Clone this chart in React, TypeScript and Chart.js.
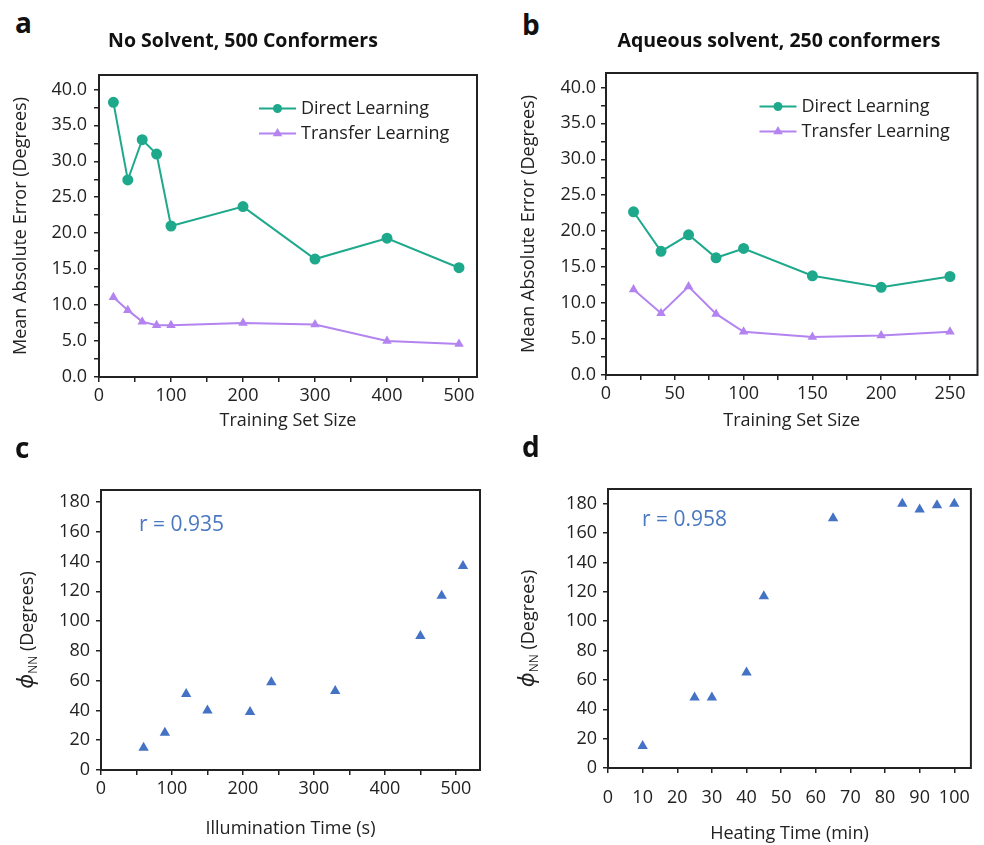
import React, { useEffect, useRef } from 'react';
import { Chart, registerables } from 'chart.js';

Chart.register(...registerables);

// ---------------- data ----------------
const sizesA = [20, 40, 60, 80, 100, 200, 300, 400, 500];
const directA = [38.2, 27.4, 33.0, 31.0, 21.0, 23.7, 16.4, 19.3, 15.2];
const transferA = [11.1, 9.3, 7.7, 7.2, 7.2, 7.5, 7.3, 5.0, 4.6];

const sizesB = [20, 40, 60, 80, 100, 150, 200, 250];
const directB = [22.7, 17.2, 19.5, 16.3, 17.6, 13.8, 12.2, 13.7];
const transferB = [11.9, 8.6, 12.3, 8.5, 6.0, 5.3, 5.5, 6.0];

const illumTime = [60, 90, 120, 150, 210, 240, 330, 450, 480, 510];
const phiC = [15, 25, 51, 40, 39, 59, 53, 90, 117, 137];

const heatTime = [10, 25, 30, 40, 45, 65, 85, 90, 95, 100];
const phiD = [15, 48, 48, 65, 117, 170, 180, 176, 179, 180];

const seriesNames = ['Direct Learning', 'Transfer Learning'];
const panelTitles = ['No Solvent, 500 Conformers', 'Aqueous solvent, 250 conformers'];
const panelLetters = ['a', 'b', 'c', 'd'];
const rLabels = ['r = 0.935', 'r = 0.958'];
const axisTitles = {
  mae: 'Mean Absolute Error (Degrees)',
  size: 'Training Set Size',
  illum: 'Illumination Time (s)',
  heat: 'Heating Time (min)',
};

// ---------------- style ----------------
const FONT = '"Open Sans", "Noto Sans", sans-serif';
const INK = '#222222';
const TEAL = '#1fa98c';
const PURPLE = '#b383f0';
const BLUE = '#4472c4';

const toXY = (xs: number[], ys: number[]) => xs.map((x, i) => ({ x, y: ys[i] }));

function linScale(
  axis: 'x' | 'y',
  min: number,
  max: number,
  step: number,
  major: number,
  fmt: (v: number) => string,
  size: number,
  tickPad: number,
  title: string | null,
  titlePad: any
) {
  const isMult = (v: number, s: number) => Math.abs(v / s - Math.round(v / s)) < 1e-6;
  return {
    type: 'linear',
    position: axis === 'x' ? 'bottom' : 'left',
    min,
    max,
    afterBuildTicks: (s: any) => {
      s.ticks = s.ticks.filter((t: any) => isMult(t.value, step) && t.value <= max + 1e-9);
    },
    afterFit: (s: any) => {
      if (axis === 'x') s.height = size;
      else s.width = size;
    },
    ticks: {
      stepSize: step,
      includeBounds: false,
      autoSkip: false,
      maxRotation: 0,
      minRotation: 0,
      padding: tickPad,
      color: INK,
      font: { family: FONT, size: 18 },
      callback: (v: any) => (isMult(Number(v), major) ? fmt(Number(v)) : ''),
    },
    grid: {
      display: true,
      drawOnChartArea: false,
      drawTicks: true,
      tickLength: 5,
      color: INK,
      lineWidth: 1.5,
    },
    border: { display: false },
    title: title
      ? {
          display: true,
          text: title,
          color: INK,
          font: { family: FONT, size: 18 },
          padding: titlePad,
        }
      : { display: false },
  };
}

function drawTri(ctx: CanvasRenderingContext2D, x: number, y: number, r: number) {
  const c = Math.cos(Math.PI / 6) * r;
  ctx.beginPath();
  ctx.moveTo(x, y - r);
  ctx.lineTo(x + c, y + r / 2);
  ctx.lineTo(x - c, y + r / 2);
  ctx.closePath();
  ctx.fill();
}

function extrasPlugin(opts: {
  legend?: boolean;
  rText?: { text: string; dx: number; dy: number };
  phiTitleX?: number;
}) {
  return {
    id: 'extras',
    beforeDatasetsDraw(chart: any) {
      const { ctx, chartArea: a } = chart;
      ctx.save();
      ctx.strokeStyle = INK;
      ctx.lineWidth = 2;
      ctx.strokeRect(a.left, a.top, a.right - a.left, a.bottom - a.top);
      ctx.restore();
    },
    afterDatasetsDraw(chart: any) {
      const { ctx, chartArea: a } = chart;
      ctx.save();
      if (opts.legend) {
        const rows = [
          { name: seriesNames[0], color: TEAL, tri: false, y: a.top + 33.5 },
          { name: seriesNames[1], color: PURPLE, tri: true, y: a.top + 58.5 },
        ];
        rows.forEach((r) => {
          const x0 = a.right - 218;
          const x1 = a.right - 181;
          ctx.strokeStyle = r.color;
          ctx.fillStyle = r.color;
          ctx.lineWidth = 2;
          ctx.beginPath();
          ctx.moveTo(x0, r.y);
          ctx.lineTo(x1, r.y);
          ctx.stroke();
          const cx = (x0 + x1) / 2;
          if (r.tri) drawTri(ctx, cx, r.y, 5.5);
          else {
            ctx.beginPath();
            ctx.arc(cx, r.y, 4.5, 0, Math.PI * 2);
            ctx.fill();
          }
          ctx.fillStyle = INK;
          ctx.font = `18px ${FONT}`;
          ctx.textBaseline = 'middle';
          ctx.textAlign = 'left';
          ctx.fillText(r.name, a.right - 176, r.y);
        });
      }
      if (opts.rText) {
        ctx.fillStyle = '#4a78c0';
        ctx.font = `21px ${FONT}`;
        ctx.textBaseline = 'middle';
        ctx.textAlign = 'left';
        ctx.fillText(opts.rText.text, a.left + opts.rText.dx, a.top + opts.rText.dy);
      }
      ctx.restore();
    },
    afterDraw(chart: any) {
      if (opts.phiTitleX === undefined) return;
      const { ctx, chartArea: a } = chart;
      const cy = (a.top + a.bottom) / 2;
      ctx.save();
      ctx.translate(opts.phiTitleX, cy);
      ctx.rotate(-Math.PI / 2);
      ctx.fillStyle = INK;
      ctx.textBaseline = 'alphabetic';
      ctx.textAlign = 'left';
      const phiFont = `italic 22px ${FONT}`;
      const subFont = `12px ${FONT}`;
      const mainFont = `18px ${FONT}`;
      const phi = '\u03D5';
      const sub = 'NN';
      const rest = ' (Degrees)';
      ctx.font = phiFont;
      const w1 = ctx.measureText(phi).width;
      ctx.font = subFont;
      const w2 = ctx.measureText(sub).width;
      ctx.font = mainFont;
      const w3 = ctx.measureText(rest).width;
      let x = -(w1 + w2 + w3) / 2;
      const base = 6;
      ctx.font = phiFont;
      ctx.fillText(phi, x, base);
      x += w1;
      ctx.font = subFont;
      ctx.fillText(sub, x, base + 4);
      x += w2;
      ctx.font = mainFont;
      ctx.fillText(rest, x, base);
      ctx.restore();
    },
  };
}

type Panel = { left: number; top: number; width: number; height: number; config: any };

const fmt1 = (v: number) => v.toFixed(1);
const fmt0 = (v: number) => String(Math.round(v));

function linePanelConfig(
  xs: number[],
  d1: number[],
  d2: number[],
  xMax: number,
  xStep: number,
  xMajor: number,
  yAxisW: number,
  xAxisH: number,
  padTop: number,
  padRight: number,
  yTickPad: number,
  yTitlePadTop: number
) {
  return {
    type: 'line',
    data: {
      datasets: [
        {
          label: seriesNames[0],
          data: toXY(xs, d1),
          borderColor: TEAL,
          backgroundColor: TEAL,
          pointBackgroundColor: TEAL,
          pointBorderColor: TEAL,
          pointStyle: 'circle',
          pointRadius: 4.5,
          borderWidth: 2,
          tension: 0,
        },
        {
          label: seriesNames[1],
          data: toXY(xs, d2),
          borderColor: PURPLE,
          backgroundColor: PURPLE,
          pointBackgroundColor: PURPLE,
          pointBorderColor: PURPLE,
          pointStyle: 'triangle',
          pointRadius: 5.5,
          pointBorderWidth: 0,
          borderWidth: 2,
          tension: 0,
        },
      ],
    },
    options: {
      animation: false,
      responsive: false,
      maintainAspectRatio: false,
      devicePixelRatio: 1,
      layout: { padding: { top: padTop, right: padRight, left: 0, bottom: 0 } },
      plugins: { legend: { display: false }, tooltip: { enabled: false }, title: { display: false } },
      scales: {
        x: linScale('x', 0, xMax, xStep, xMajor, fmt0, xAxisH, 3, axisTitles.size, { top: 0, bottom: 8 }),
        y: linScale('y', 0, 42, 2.5, 5, fmt1, yAxisW, yTickPad, axisTitles.mae, { top: yTitlePadTop, bottom: 0 }),
      },
    },
    plugins: [extrasPlugin({ legend: true })],
  };
}

function scatterPanelConfig(
  xs: number[],
  ys: number[],
  xMax: number,
  xStep: number,
  xMajor: number,
  yMax: number,
  yAxisW: number,
  xAxisH: number,
  padTop: number,
  padRight: number,
  xTickPad: number,
  xTitlePadBottom: number,
  xTitle: string,
  rText: { text: string; dx: number; dy: number },
  phiTitleX: number
) {
  return {
    type: 'scatter',
    data: {
      datasets: [
        {
          label: 'phi',
          data: toXY(xs, ys),
          backgroundColor: BLUE,
          borderColor: BLUE,
          pointStyle: 'triangle',
          pointRadius: 6,
          pointBorderWidth: 0,
        },
      ],
    },
    options: {
      animation: false,
      responsive: false,
      maintainAspectRatio: false,
      devicePixelRatio: 1,
      layout: { padding: { top: padTop, right: padRight, left: 0, bottom: 0 } },
      plugins: { legend: { display: false }, tooltip: { enabled: false }, title: { display: false } },
      scales: {
        x: linScale('x', 0, xMax, xStep, xMajor, fmt0, xAxisH, xTickPad, xTitle, { top: 0, bottom: xTitlePadBottom }),
        y: linScale('y', 0, yMax, 20, 20, fmt0, yAxisW, 6, null, 0),
      },
    },
    plugins: [extrasPlugin({ rText, phiTitleX })],
  };
}

const panels: Panel[] = [
  {
    left: 0,
    top: 50,
    width: 490,
    height: 390,
    config: linePanelConfig(sizesA, directA, transferA, 525, 50, 100, 99, 63, 25, 13, 7, 10),
  },
  {
    left: 490,
    top: 50,
    width: 494,
    height: 390,
    config: linePanelConfig(sizesB, directB, transferB, 270, 25, 50, 116, 65, 23, 1, 5, 28),
  },
  {
    left: 0,
    top: 440,
    width: 490,
    height: 405,
    config: scatterPanelConfig(illumTime, phiC, 534, 50, 100, 188, 101, 75, 50, 10, 3, 5, axisTitles.illum,
      { text: rLabels[0], dx: 38, dy: 35 }, 27),
  },
  {
    left: 490,
    top: 440,
    width: 494,
    height: 405,
    config: scatterPanelConfig(heatTime, phiD, 104.8, 10, 10, 190, 118, 77, 49, 1, 14, 0, axisTitles.heat,
      { text: rLabels[1], dx: 34, dy: 31 }, 38),
  },
];

function ChartCanvas({ p }: { p: Panel }) {
  const ref = useRef<HTMLCanvasElement | null>(null);
  useEffect(() => {
    if (!ref.current) return;
    const chart = new Chart(ref.current, p.config);
    return () => chart.destroy();
  }, [p]);
  return (
    <canvas
      ref={ref}
      width={p.width}
      height={p.height}
      style={{ position: 'absolute', left: p.left, top: p.top, width: p.width, height: p.height }}
    />
  );
}

const letterPos = [
  { left: 15, top: 8 },
  { left: 522, top: 10 },
  { left: 15, top: 433 },
  { left: 522, top: 432 },
];

export default function App() {
  return (
    <div
      style={{
        position: 'absolute',
        left: 0,
        top: 0,
        width: 984,
        height: 845,
        background: '#ffffff',
        fontFamily: FONT,
        color: '#111',
        overflow: 'hidden',
      }}
    >
      {panels.map((p, i) => (
        <ChartCanvas key={i} p={p} />
      ))}
      {panelLetters.map((l, i) => (
        <div
          key={l}
          style={{
            position: 'absolute',
            left: letterPos[i].left,
            top: letterPos[i].top,
            fontSize: 28,
            fontWeight: 700,
            lineHeight: '28px',
          }}
        >
          {l}
        </div>
      ))}
      <div
        style={{
          position: 'absolute',
          left: 43,
          width: 400,
          top: 30,
          textAlign: 'center',
          fontSize: 19.5,
          fontWeight: 700,
          lineHeight: '19.5px',
        }}
      >
        {panelTitles[0]}
      </div>
      <div
        style={{
          position: 'absolute',
          left: 579,
          width: 400,
          top: 30,
          textAlign: 'center',
          fontSize: 19.5,
          fontWeight: 700,
          lineHeight: '19.5px',
        }}
      >
        {panelTitles[1]}
      </div>
    </div>
  );
}
